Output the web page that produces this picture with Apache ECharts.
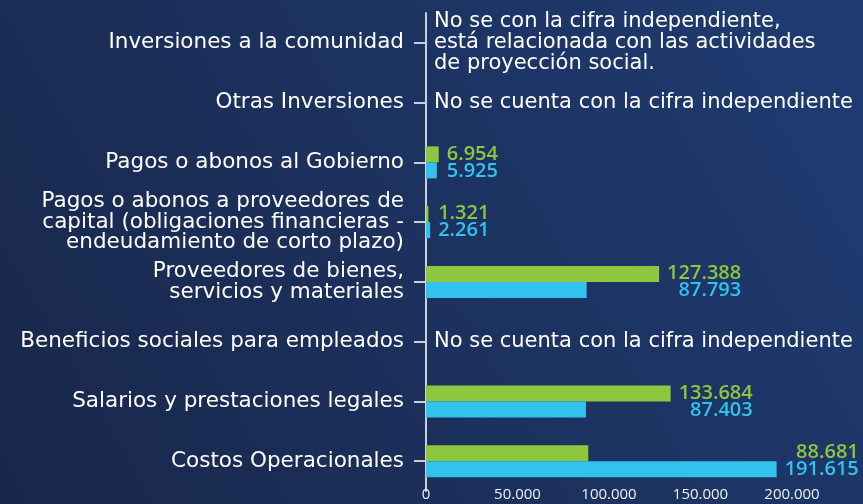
<!DOCTYPE html>
<html>
<head>
<meta charset="utf-8">
<script src="https://cdn.jsdelivr.net/npm/echarts@6/dist/echarts.min.js"></script>
<style>
html, body { margin:0; padding:0; }
#chart { width:863px; height:504px; }
</style>
</head>
<body>
<div id="chart"></div>
<script>
// categorias, de abajo hacia arriba
var categorias = [
	'Costos Operacionales',
	'Salarios y prestaciones legales',
	'Beneficios sociales para empleados',
	'Proveedores de bienes,\nservicios y materiales',
	'Pagos o abonos a proveedores de\ncapital (obligaciones financieras -\nendeudamiento de corto plazo)',
	'Pagos o abonos al Gobierno',
	'Otras Inversiones',
	'Inversiones a la comunidad'
];
// serie verde (barra superior)
var valoresVerde = [88681, 133684, null, 127388, 1321, 6954, null, null];
// serie azul (barra inferior)
var valoresAzul = [191615, 87403, null, 87793, 2261, 5925, null, null];
// notas para las categorias sin cifra
var notas = [
	null,
	null,
	'No se cuenta con la cifra independiente',
	null,
	null,
	null,
	'No se cuenta con la cifra independiente',
	'No se con la cifra independiente,\nestá relacionada con las actividades\nde proyección social.'
];
var ticksX = [0, 50000, 100000, 150000, 200000];

var verde = '#8dc63f';
var azul = '#31c3ee';
var fuente = 'DejaVu Sans';
var fuenteNum = 'Open Sans';

function formato(n)
{
	return String(n).replace(/\B(?=(\d{3})+(?!\d))/g, '.');
}

// puntos invisibles que llevan las etiquetas de cada par
var etiquetas = [];
for (var i = 0; i < categorias.length; i++) {
	var v = 0;
	if (valoresVerde[i] != null) v = Math.max(valoresVerde[i], valoresAzul[i]);
	etiquetas.push([v, i]);
}

var myChart = echarts.init(document.getElementById('chart'));

var option = {
	backgroundColor : {
		type:'linear', x:0, y:1, x2:1, y2:0,
		colorStops:[
			{offset:0, color:'#19274a'},
			{offset:1, color:'#1f3c73'}
		]
	},
	animation:false,
	textStyle:{ fontFamily:fuente },
	grid:{
		left:426,
		right:71,
		top:13,
		bottom:13
	},
	xAxis : {
		type:'value',
		min:0,
		max:200000,
		interval:50000,
		splitLine:{ show:false },
		axisLine:{ show:false },
		axisTick:{ show:false },
		axisLabel:{
			color:'#eef0f5',
			fontSize:15,
			fontFamily:fuenteNum,
			margin:-4,
			formatter:function(v){ return ticksX.indexOf(v) >= 0 ? formato(v) : ''; }
		}
	},
	yAxis : {
		type:'category',
		data:categorias,
		axisLine:{ show:true, lineStyle:{ color:'#c9ced9', width:2 } },
		axisTick:{ show:true, alignWithLabel:true, length:12, lineStyle:{ color:'#c9ced9', width:2 } },
		axisLabel:{
			color:'#ffffff',
			fontSize:21.5,
			lineHeight:20.5,
			margin:22
		}
	},
	series : [
		{
			name:'verde',
			type:'bar',
			data:valoresVerde,
			barWidth:16,
			barGap:'0%',
			itemStyle:{ color:verde }
		},
		{
			name:'azul',
			type:'bar',
			data:valoresAzul,
			barWidth:16,
			barGap:'0%',
			itemStyle:{ color:azul }
		},
		{
			name:'etiquetas',
			type:'scatter',
			data:etiquetas,
			symbolSize:0,
			silent:true,
			itemStyle:{ opacity:1 },
			label:{
				show:true,
				opacity:1,
				position:'right',
				distance:8,
				formatter:function(p){
					var i = p.data[1];
					if (notas[i]) return '{n|' + notas[i].split('\n').join('}\n{n|') + '}';
					return '{g|' + formato(valoresVerde[i]) + '}\n{b|' + formato(valoresAzul[i]) + '}';
				},
				rich:{
					g:{ color:verde, fontSize:20, lineHeight:17, align:'right', fontFamily:fuenteNum, fontWeight:600 },
					b:{ color:azul, fontSize:20, lineHeight:17, align:'right', fontFamily:fuenteNum, fontWeight:600 },
					n:{ color:'#ffffff', fontSize:21, lineHeight:21, fontFamily:fuente }
				}
			}
		}
	]
};

myChart.setOption(option);
</script>
</body>
</html>
